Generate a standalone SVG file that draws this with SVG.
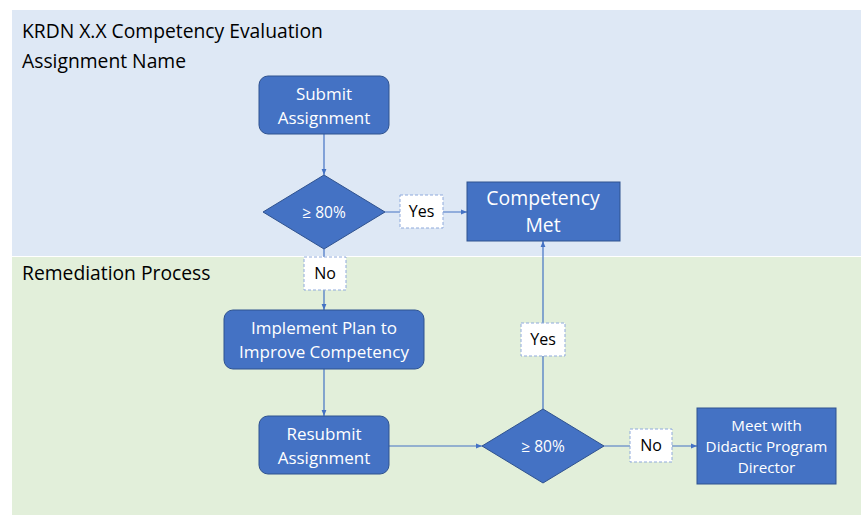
<svg xmlns="http://www.w3.org/2000/svg" width="861" height="517" viewBox="0 0 861 517">
<defs>
<marker id="arr" viewBox="0 0 10 10" refX="10" refY="5" markerWidth="6" markerHeight="6" orient="auto-start-reverse" markerUnits="userSpaceOnUse">
<path d="M0,1 L10,5 L0,9 z" fill="#4472C4"/>
</marker>
<style>
text{font-family:"Open Sans","Liberation Sans",sans-serif;}
.band-title{font-size:19.3px;fill:#000;}
.node{fill:#4472C4;stroke:#2F528F;stroke-width:1;}
.nt{fill:#fff;font-size:17px;text-anchor:middle;}
.dt{font-size:15.5px;}
.mt{font-size:15.2px;}
.big{font-size:19.4px;}
.lbl{fill:#fff;stroke:#8FAADC;stroke-width:1;stroke-dasharray:3,2;}
.lt{fill:#000;font-size:16px;text-anchor:middle;}
.conn{stroke:#4472C4;stroke-width:1.2;fill:none;}
</style>
</defs>
<rect width="861" height="517" fill="#fff"/>
<g id="bands">
<rect x="12" y="10" width="849" height="246" fill="#DEE8F5"/>
<rect x="12" y="257" width="849" height="258" fill="#E2EFDA"/>
<text class="band-title" x="22" y="38">KRDN X.X Competency Evaluation</text>
<text class="band-title" x="22" y="68">Assignment Name</text>
<text class="band-title" x="22" y="280">Remediation Process</text>
</g>
<g id="connectors">
<line class="conn" x1="324" y1="134" x2="324" y2="175" marker-end="url(#arr)"/>
<line class="conn" x1="385" y1="212" x2="467" y2="212" marker-end="url(#arr)"/>
<line class="conn" x1="324" y1="249" x2="324" y2="310" marker-end="url(#arr)"/>
<line class="conn" x1="324" y1="369" x2="324" y2="416" marker-end="url(#arr)"/>
<line class="conn" x1="389" y1="446" x2="482" y2="446" marker-end="url(#arr)"/>
<line class="conn" x1="543" y1="409" x2="543" y2="241" marker-end="url(#arr)"/>
<line class="conn" x1="604" y1="446" x2="697" y2="446" marker-end="url(#arr)"/>
</g>
<g id="submit">
<rect class="node" x="259" y="76" width="130" height="58" rx="9"/>
<text class="nt" x="324" y="100">Submit</text>
<text class="nt" x="324" y="124">Assignment</text>
</g>
<g id="decision1">
<polygon class="node" points="324,175 385,212 324,249 263,212"/>
<text class="nt dt" x="324" y="218">≥ 80%</text>
</g>
<g id="label-yes1">
<rect class="lbl" x="400" y="195" width="43" height="33"/>
<text class="lt" x="421.5" y="217">Yes</text>
</g>
<g id="competency-met">
<rect class="node" x="467" y="182" width="153" height="59"/>
<text class="nt big" x="543" y="205">Competency</text>
<text class="nt big" x="543" y="232">Met</text>
</g>
<g id="label-no1">
<rect class="lbl" x="304" y="257" width="42" height="33"/>
<text class="lt" x="325" y="279">No</text>
</g>
<g id="implement">
<rect class="node" x="224" y="310" width="200" height="59" rx="9"/>
<text class="nt" x="324" y="334">Implement Plan to</text>
<text class="nt" x="324" y="358">Improve Competency</text>
</g>
<g id="resubmit">
<rect class="node" x="259" y="416" width="130" height="58" rx="9"/>
<text class="nt" x="324" y="440">Resubmit</text>
<text class="nt" x="324" y="464">Assignment</text>
</g>
<g id="decision2">
<polygon class="node" points="543,409 604,446 543,483 482,446"/>
<text class="nt dt" x="543" y="452">≥ 80%</text>
</g>
<g id="label-yes2">
<rect class="lbl" x="521" y="323" width="44" height="33"/>
<text class="lt" x="543" y="345">Yes</text>
</g>
<g id="label-no2">
<rect class="lbl" x="630" y="429" width="42" height="33"/>
<text class="lt" x="651" y="451">No</text>
</g>
<g id="meet">
<rect class="node" x="697" y="408" width="139" height="76"/>
<text class="nt mt" x="766.5" y="431">Meet with</text>
<text class="nt mt" x="766.5" y="452">Didactic Program</text>
<text class="nt mt" x="766.5" y="473">Director</text>
</g>
</svg>
